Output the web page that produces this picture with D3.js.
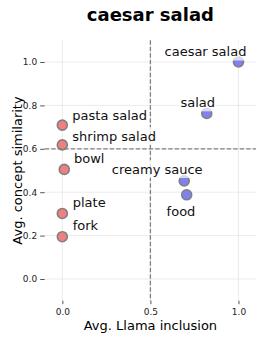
<!DOCTYPE html>
<html>
<head>
<meta charset="utf-8">
<script src="https://cdn.jsdelivr.net/npm/d3@7"></script>
<style>
  body { margin: 0; background: #fff; }
  svg { font-family: "DejaVu Sans", sans-serif; }
  .tick text { fill: #222; font-size: 9px; }
  .tick line { stroke: #555; }
  .domain { display: none; }
</style>
</head>
<body>
<svg id="chart" width="262" height="340"></svg>
<script>
var words      = ["caesar salad", "salad", "creamy sauce", "food", "pasta salad", "shrimp salad", "bowl", "plate", "fork"];
var llama      = [1.0, 0.82, 0.692, 0.706, 0.0, 0.0, 0.011, 0.0, 0.0];
var similarity = [1.0, 0.763, 0.452, 0.388, 0.709, 0.618, 0.505, 0.302, 0.195];
var groups     = ["in", "in", "in", "in", "out", "out", "out", "out", "out"];
var xTicks = [0.0, 0.5, 1.0];
var yTicks = [0.0, 0.2, 0.4, 0.6, 0.8, 1.0];
var xThreshold = 0.5, yThreshold = 0.6;

// label placement (like adjustText output in the original)
var labelPos = {
  "caesar salad": {anchor: "middle", dx: -33, dy: -6},
  "salad":        {anchor: "middle", dx: -9,  dy: -6.6},
  "creamy sauce": {anchor: "middle", dx: -27, dy: -7.4},
  "food":         {anchor: "middle", dx: -5.7, dy: 20.7},
  "pasta salad":  {anchor: "start",  dx: 10,  dy: -5},
  "shrimp salad": {anchor: "start",  dx: 10,  dy: -4.3},
  "bowl":         {anchor: "start",  dx: 9.7, dy: -6},
  "plate":        {anchor: "start",  dx: 10.4, dy: -6.6},
  "fork":         {anchor: "start",  dx: 10.4, dy: -6.7}
};

var colors = {"in": "#8080f2", "out": "#f08080"};

plot_scatter();

function plot_scatter() {
  var svg = d3.select("#chart");
  var pLeft = 44.7, pRight = 256.1, pTop = 40.3, pBottom = 300.7;

  var x = d3.scaleLinear().domain([-0.1, 1.1]).range([pLeft, pRight]);
  var y = d3.scaleLinear().domain([-0.1, 1.1]).range([pBottom, pTop]);

  var data = words.map(function(w, i) {
    return {word: w, x: llama[i], y: similarity[i], group: groups[i]};
  });

  // grid
  svg.append("g").selectAll("line").data(xTicks).enter().append("line")
    .attr("x1", d => x(d)).attr("x2", d => x(d))
    .attr("y1", pTop).attr("y2", pBottom)
    .attr("stroke", "#e6e6e6").attr("stroke-width", 0.8);
  svg.append("g").selectAll("line").data(yTicks).enter().append("line")
    .attr("x1", pLeft).attr("x2", pRight)
    .attr("y1", d => y(d)).attr("y2", d => y(d))
    .attr("stroke", "#e6e6e6").attr("stroke-width", 0.8);

  // axes
  svg.append("g")
    .attr("transform", `translate(0, ${pBottom})`)
    .call(d3.axisBottom(x).tickValues(xTicks).tickFormat(d3.format(".1f")).tickSize(3.5).tickPadding(4));
  svg.append("g")
    .attr("transform", `translate(${pLeft}, 0)`)
    .call(d3.axisLeft(y).tickValues(yTicks).tickFormat(d3.format(".1f")).tickSize(4.5).tickPadding(3));
  svg.selectAll(".tick text").attr("font-family", "DejaVu Sans");

  // points
  svg.append("g").selectAll("circle").data(data).enter().append("circle")
    .attr("cx", d => x(d.x)).attr("cy", d => y(d.y))
    .attr("r", 5)
    .attr("fill", d => colors[d.group])
    .attr("stroke", "#808080").attr("stroke-width", 1.6);

  // threshold lines
  svg.append("line")
    .attr("x1", x(xThreshold)).attr("x2", x(xThreshold))
    .attr("y1", pTop).attr("y2", pBottom)
    .attr("stroke", "#808080").attr("stroke-width", 1.3).attr("stroke-dasharray", "4.5,2");
  svg.append("line")
    .attr("x1", pLeft).attr("x2", pRight)
    .attr("y1", y(yThreshold)).attr("y2", y(yThreshold))
    .attr("stroke", "#808080").attr("stroke-width", 1.3).attr("stroke-dasharray", "4.5,2");

  // labels with translucent white box
  var labels = svg.append("g").selectAll("g").data(data).enter().append("g");
  labels.each(function(d) {
    var g = d3.select(this);
    var p = labelPos[d.word];
    var t = g.append("text")
      .attr("x", x(d.x) + p.dx).attr("y", y(d.y) + p.dy)
      .attr("text-anchor", p.anchor)
      .attr("font-size", "13px")
      .attr("fill", "#111")
      .text(d.word);
    var bb = t.node().getBBox();
    g.insert("rect", "text")
      .attr("x", bb.x - 1.5).attr("y", bb.y - 1.5)
      .attr("width", bb.width + 3).attr("height", bb.height + 3)
      .attr("fill", "#fff").attr("opacity", 0.7);
  });

  // titles
  svg.append("text")
    .attr("x", (pLeft + pRight) / 2).attr("y", 21)
    .attr("text-anchor", "middle")
    .attr("font-size", "18px").attr("font-weight", "bold")
    .text("caesar salad");

  svg.append("text")
    .attr("x", (pLeft + pRight) / 2).attr("y", 330)
    .attr("text-anchor", "middle")
    .attr("font-size", "13px")
    .text("Avg. Llama inclusion");

  svg.append("text")
    .attr("transform", `translate(22, ${(pTop + pBottom) / 2}) rotate(-90)`)
    .attr("text-anchor", "middle")
    .attr("font-size", "13px")
    .text("Avg. concept similarity");
}
</script>
</body>
</html>
